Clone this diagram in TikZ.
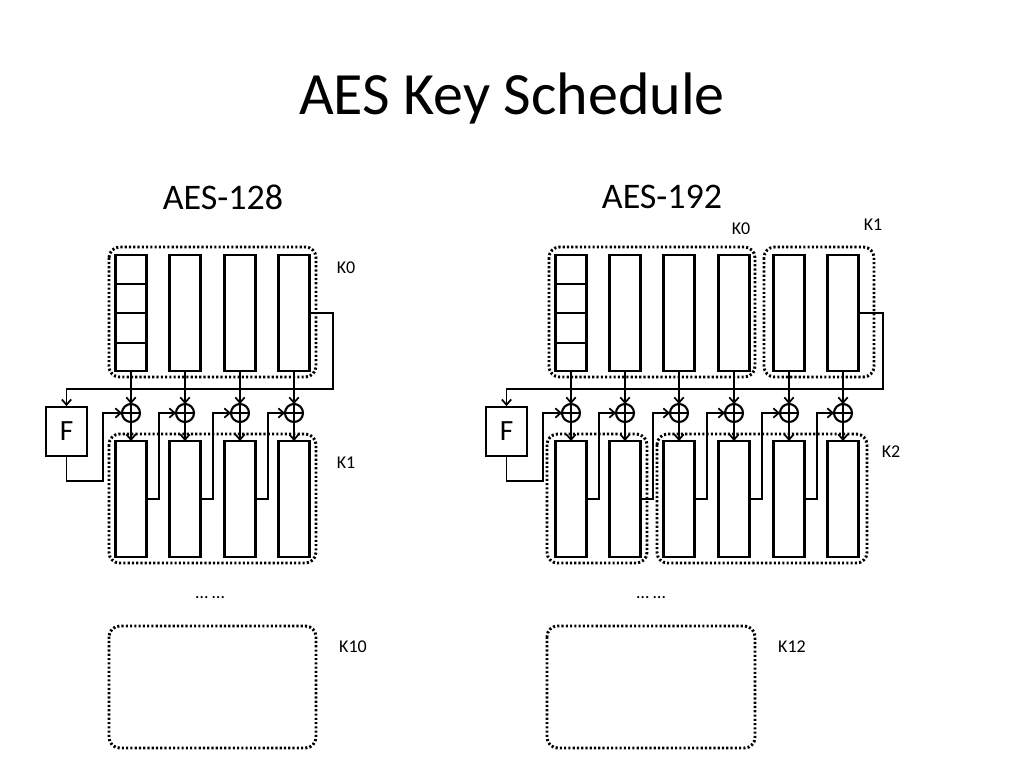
\documentclass[tikz,border=0pt]{standalone}
\usepackage{fontspec}
\setmainfont{Carlito}
\usetikzlibrary{arrows.meta}
\begin{document}
\begin{tikzpicture}[x=0.75pt,y=-0.75pt,
  wbox/.style={draw,line width=2.2pt,minimum width=23.5pt,minimum height=87pt,inner sep=0pt,outer sep=0pt},
  xorn/.style={draw,circle,line width=1.6pt,minimum size=13.5pt,inner sep=0pt,outer sep=0pt},
  fbox/.style={draw,line width=1.6pt,minimum width=30.5pt,minimum height=36.5pt,inner sep=0pt,font=\fontsize{22}{24}\selectfont},
  arr/.style={line width=1.3pt,-{Straight Barb[length=4pt,width=7pt,line width=1.3pt]}},
  ln/.style={line width=1.3pt},
  grp/.style={line width=2.2pt,dash pattern=on 1.6pt off 1.6pt,rounded corners=8pt},
  lab/.style={font=\fontsize{13.5}{15}\selectfont,inner sep=0pt},
  sub/.style={font=\fontsize{27}{30}\selectfont,inner sep=0pt}]
\useasboundingbox (0,0) rectangle (1024,768);
\node[font=\fontsize{45}{50}\selectfont] (title) at (512,98) {AES Key Schedule};
\node[sub] (s1) at (223,197) {AES-128};
\node[sub] (s2) at (662,197) {AES-192};
% ---------- AES-128 ----------
\foreach \i/\x in {1/131,2/185,3/240,4/294}{
  \node[wbox] (a\i) at (\x,313) {};
  \node[wbox] (b\i) at (\x,499) {};
  \node[xorn] (x\i) at (\x,413) {};
  \draw[line width=1.6pt] (x\i.north)--(x\i.south) (x\i.west)--(x\i.east);
  \draw[arr] (a\i.south) -- (x\i.north);
  \draw[arr] (x\i.south) -- (b\i.north);
}
\foreach \y in {284,313,343}{\draw[line width=2.2pt] (115,\y) -- (147,\y);}
\node[fbox] (F) at (66.5,431.5) {F};
\coordinate (fb) at (333,389);
\draw[arr] (a4.east) -| (fb) -| (F.north);
\coordinate (c0) at (103,481);
\draw[arr] (F.south) |- (c0) |- (x1.west);
\foreach \i/\j in {1/2,2/3,3/4}{
  \draw[arr] (b\i.east) -- ++(12,0) |- (x\j.west);
}
\draw[grp] (109,247) rectangle (316,377);
\draw[grp] (109,434) rectangle (316,563);
\draw[grp] (109,626) rectangle (316,748);
\node[lab] (k0) at (346,268) {K0};
\node[lab] (k1) at (346,463) {K1};
\node[lab] (k10) at (353,647) {K10};
\node[lab] (d1) at (210,598) {… …};
% ---------- AES-192 ----------
\foreach \i/\x in {1/571,2/625,3/679,4/734,5/789,6/843}{
  \node[wbox] (p\i) at (\x,313) {};
  \node[wbox] (q\i) at (\x,499) {};
  \node[xorn] (y\i) at (\x,413) {};
  \draw[line width=1.6pt] (y\i.north)--(y\i.south) (y\i.west)--(y\i.east);
  \draw[arr] (p\i.south) -- (y\i.north);
  \draw[arr] (y\i.south) -- (q\i.north);
}
\foreach \y in {284,313,343}{\draw[line width=2.2pt] (555,\y) -- (587,\y);}
\node[fbox] (G) at (506.5,431.5) {F};
\coordinate (gb) at (883,389);
\draw[arr] (p6.east) -| (gb) -| (G.north);
\coordinate (d0) at (543,481);
\draw[arr] (G.south) |- (d0) |- (y1.west);
\foreach \i/\j in {1/2,2/3,3/4,4/5,5/6}{
  \draw[arr] (q\i.east) -- ++(12,0) |- (y\j.west);
}
\draw[grp] (549,247) rectangle (755,377);
\draw[grp] (764,247) rectangle (874,377);
\draw[grp] (547,434) rectangle (647,563);
\draw[grp] (657,434) rectangle (867,563);
\draw[grp] (547,626) rectangle (755,748);
\node[lab] (r0) at (741,229) {K0};
\node[lab] (r1) at (873,225) {K1};
\node[lab] (r2) at (891,452) {K2};
\node[lab] (r12) at (792,647) {K12};
\node[lab] (d2) at (651,598) {… …};
\end{tikzpicture}
\end{document}
